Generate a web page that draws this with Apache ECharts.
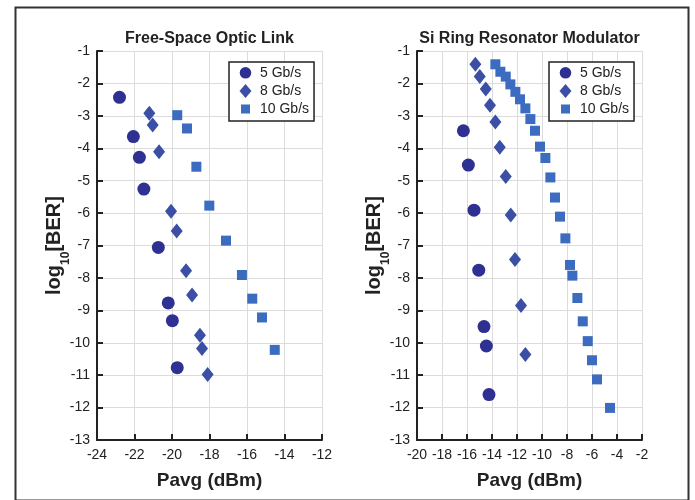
<!DOCTYPE html>
<html>
<head>
<meta charset="utf-8">
<script src="https://cdn.jsdelivr.net/npm/echarts@6/dist/echarts.min.js"></script>
<style>
html,body{margin:0;padding:0;background:#fff;}
#chart{width:695px;height:500px;}
</style>
</head>
<body>
<div id="chart"></div>
<script>
// ---- Data (Pavg dBm, log10 BER) ----
const titles = ['Free-Space Optic Link', 'Si Ring Resonator Modulator'];
const seriesNames = ['5 Gb/s', '8 Gb/s', '10 Gb/s'];

// Free-Space Optic Link
const fso5 = [[-22.8,-2.43],[-22.06,-3.64],[-21.74,-4.28],[-21.5,-5.26],[-20.73,-7.06],[-20.2,-8.77],[-19.98,-9.32],[-19.72,-10.77]];
const fso8 = [[-21.21,-2.92],[-21.03,-3.28],[-20.69,-4.11],[-20.05,-5.94],[-19.75,-6.55],[-19.25,-7.78],[-18.93,-8.53],[-18.51,-9.77],[-18.4,-10.18],[-18.1,-10.98]];
const fso10 = [[-19.72,-2.98],[-19.2,-3.39],[-18.7,-4.57],[-18.01,-5.77],[-17.12,-6.85],[-16.27,-7.91],[-15.72,-8.64],[-15.2,-9.22],[-14.52,-10.22]];

// Si Ring Resonator Modulator
const srr5 = [[-16.29,-3.46],[-15.89,-4.52],[-15.44,-5.91],[-15.06,-7.76],[-14.64,-9.5],[-14.45,-10.1],[-14.24,-11.6]];
const srr8 = [[-15.33,-1.41],[-14.98,-1.79],[-14.5,-2.17],[-14.16,-2.67],[-13.73,-3.19],[-13.38,-3.97],[-12.9,-4.87],[-12.5,-6.06],[-12.16,-7.43],[-11.68,-8.85],[-11.33,-10.36]];
const srr10 = [[-13.73,-1.41],[-13.33,-1.64],[-12.9,-1.79],[-12.53,-2.03],[-12.13,-2.26],[-11.76,-2.49],[-11.33,-2.77],[-10.93,-3.1],[-10.56,-3.46],[-10.16,-3.95],[-9.73,-4.3],[-9.33,-4.9],[-8.96,-5.52],[-8.56,-6.11],[-8.13,-6.78],[-7.76,-7.6],[-7.57,-7.93],[-7.17,-8.62],[-6.74,-9.34],[-6.34,-9.95],[-6.0,-10.54],[-5.6,-11.13],[-4.56,-12.01]];

// Axis ranges / ticks
const xRanges = [[-24,-12],[-20,-2]];
const yRange = [-13,-1];
const tickStep = [2, 1];

// ---- Style ----
const FONT = 'Liberation Sans, Arial, Helvetica, sans-serif';
const colors = ['#2f3192', '#3b4fa4', '#3b6cc0'];
const symbols = ['circle', 'diamond', 'rect'];
const legendIcons = [
  'path://M0,0L0,0M13,14L13,14M6.5,1A5.8,5.8,0,1,1,6.49,1Z',
  'path://M0,0L0,0M13,14L13,14M6.5,0L12.5,7L6.5,14L0.5,7Z',
  'path://M0,0L0,0M13,14L13,14M2,2.5L11,2.5L11,11.5L2,11.5Z'
];
const sizes = [13, [12, 15], 10];

const gridLefts = [97, 417];
const chart = echarts.init(document.getElementById('chart'));

function xAxisFor(i) {
  return {
    type: 'value', gridIndex: i, min: xRanges[i][0], max: xRanges[i][1], interval: tickStep[0],
    name: 'Pavg (dBm)', nameLocation: 'middle', nameGap: 31,
    nameTextStyle: {fontFamily: FONT, fontSize: 19, fontWeight: 'bold', color: '#222'},
    axisLine: {show: true, onZero: false, lineStyle: {color: '#222', width: 2}},
    axisTick: {show: true, inside: true, length: 6, lineStyle: {color: '#222', width: 2}},
    axisLabel: {fontFamily: FONT, fontSize: 14, color: '#222', margin: 8},
    splitLine: {show: true, lineStyle: {color: '#dcdcdc', width: 1}}
  };
}
function yAxisFor(i) {
  return {
    type: 'value', gridIndex: i, min: yRange[0], max: yRange[1], interval: tickStep[1],
    name: '{b|log}{s|10}{b|[BER]}', nameLocation: 'middle', nameGap: 33, nameRotate: 90,
    nameMoveOverlap: false,
    nameTextStyle: {
      fontFamily: FONT, fontSize: 20, fontWeight: 'bold', color: '#222',
      rich: {
        b: {fontFamily: FONT, fontSize: 20, fontWeight: 'bold', color: '#222'},
        s: {fontFamily: FONT, fontSize: 12, fontWeight: 'bold', color: '#222', verticalAlign: 'bottom', padding: [0,0,-8,0]}
      }
    },
    axisLine: {show: true, onZero: false, lineStyle: {color: '#222', width: 2}},
    axisTick: {show: true, inside: true, length: 6, lineStyle: {color: '#222', width: 2}},
    axisLabel: {fontFamily: FONT, fontSize: 14, color: '#222', margin: 7},
    splitLine: {show: true, lineStyle: {color: '#dcdcdc', width: 1}}
  };
}

const allData = [[fso5, fso8, fso10], [srr5, srr8, srr10]];
const series = [];
allData.forEach((group, gi) => {
  group.forEach((d, si) => {
    series.push({
      type: 'scatter', name: seriesNames[si], xAxisIndex: gi, yAxisIndex: gi,
      data: d, symbol: symbols[si], symbolSize: sizes[si],
      itemStyle: {color: colors[si], opacity: 1},
      z: 3 + si
    });
  });
});

function legendFor(i) {
  return {
    orient: 'vertical', left: gridLefts[i] + 132, top: 62,
    data: seriesNames.map((n, k) => ({name: n, icon: legendIcons[k]})),
    itemWidth: 13, itemHeight: 14, itemGap: 4,
    padding: [4, 5, 5, 10],
    borderColor: '#222', borderWidth: 1.5, backgroundColor: '#fff',
    textStyle: {fontFamily: FONT, fontSize: 14, color: '#222', padding: [0,0,0,3]},
    selectedMode: false
  };
}

chart.setOption({
  animation: false,
  backgroundColor: '#fff',
  title: titles.map((t, i) => ({
    text: t, left: gridLefts[i] + 112.5, top: 31, textAlign: 'center', padding: 0,
    textStyle: {fontFamily: FONT, fontSize: 16, fontWeight: 'bold', color: '#222'}
  })),
  grid: gridLefts.map(l => ({left: l, top: 51, width: 225, height: 389, containLabel: false})),
  xAxis: [xAxisFor(0), xAxisFor(1)],
  yAxis: [yAxisFor(0), yAxisFor(1)],
  legend: [legendFor(0), legendFor(1)],
  series: series,
  graphic: [{
    type: 'rect', left: 13, top: 5, silent: true, z: -10,
    shape: {width: 673, height: 493},
    style: {fill: 'none', stroke: '#333', lineWidth: 2}
  }]
});
</script>
</body>
</html>
